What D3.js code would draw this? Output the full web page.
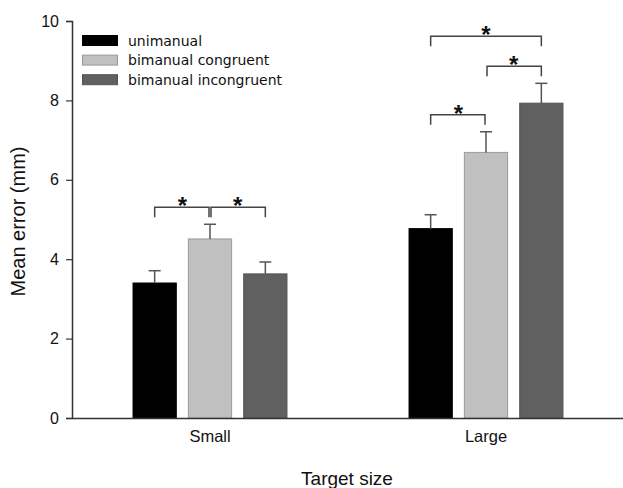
<!DOCTYPE html>
<html>
<head>
<meta charset="utf-8">
<script src="https://cdn.jsdelivr.net/npm/d3@7"></script>
<style>
  html, body { margin: 0; padding: 0; background: #fff; }
  svg { display: block; }
</style>
</head>
<body>
<svg id="chart" width="623" height="488"></svg>
<script>
// Mean pointing error by target size and hand condition
const targetSizes = ["Small", "Large"];
const conditions = ["unimanual", "bimanual congruent", "bimanual incongruent"];
const meanError = {
  Small: [3.40, 4.51, 3.63],
  Large: [4.77, 6.69, 7.93]
};
const errorSE = {
  Small: [0.31, 0.37, 0.30],
  Large: [0.35, 0.52, 0.50]
};
// significant pairwise comparisons (indices into conditions)
const sigPairs = {
  Small: [[0, 1], [1, 2]],
  Large: [[0, 1], [1, 2], [0, 2]]
};
const yTicks = [0, 2, 4, 6, 8, 10];

const fills = ["#000000", "#c0c0c0", "#606060"];
const strokes = ["#000000", "#9a9a9a", "#555555"];
const sans = "Liberation Sans, Arial, sans-serif";

const svg = d3.select("#chart");
const plot = { left: 72, right: 624, top: 21, bottom: 418 };

const y = d3.scaleLinear().domain([0, 10]).range([plot.bottom, plot.top]);
const x0 = d3.scaleBand().domain(targetSizes).range([plot.left, plot.right]);
const x1 = d3.scaleBand().domain(d3.range(conditions.length))
  .range([-83, 83]).paddingInner(0.2).paddingOuter(0.1);

const rows = targetSizes.flatMap(g => conditions.map((c, i) => ({
  g, i, v: meanError[g][i], se: errorSE[g][i]
})));

// bars
svg.append("g").selectAll("rect").data(rows).join("rect")
  .attr("x", d => x0(d.g) + x0.bandwidth() / 2 + x1(d.i) + 0.5)
  .attr("y", d => y(d.v))
  .attr("width", x1.bandwidth() - 1)
  .attr("height", d => y(0) - y(d.v))
  .attr("fill", d => fills[d.i])
  .attr("stroke", d => strokes[d.i])
  .attr("stroke-width", 1);

// error bars (upper only)
const cx = d => x0(d.g) + x0.bandwidth() / 2 + x1(d.i) + x1.bandwidth() / 2;
const eb = svg.append("g").attr("stroke", "#555").attr("stroke-width", 1.5);
eb.selectAll("line.v").data(rows).join("line").attr("class", "v")
  .attr("x1", cx).attr("x2", cx)
  .attr("y1", d => y(d.v)).attr("y2", d => y(d.v + d.se));
eb.selectAll("line.c").data(rows).join("line").attr("class", "c")
  .attr("x1", d => cx(d) - 6).attr("x2", d => cx(d) + 6)
  .attr("y1", d => y(d.v + d.se)).attr("y2", d => y(d.v + d.se));

// significance brackets: sit above the tallest error bar they span,
// and stack above any narrower bracket nested inside them
const bg = svg.append("g");
targetSizes.forEach(g => {
  const placed = [];
  const pairs = sigPairs[g].slice().sort((a, b) => (a[1] - a[0]) - (b[1] - b[0]));
  pairs.forEach(([a, b]) => {
    const xa = cx({ g, i: a }), xb = cx({ g, i: b });
    let top = d3.min(d3.range(a, b + 1), k => y(meanError[g][k] + errorSE[g][k])) - 17;
    placed.forEach(p => {
      if (p.a >= a && p.b <= b) top = Math.min(top, p.y - 30);
    });
    placed.push({ a, b, y: top });
    const l = xa + (sigPairs[g].some(q => q[1] === a) ? 1 : 0);
    const r = xb - (sigPairs[g].some(q => q[0] === b) ? 1 : 0);
    bg.append("path")
      .attr("d", `M${l},${top + 10}V${top}H${r}V${top + 10}`)
      .attr("fill", "none").attr("stroke", "#444").attr("stroke-width", 1.5);
    bg.append("text")
      .attr("x", (xa + xb) / 2).attr("y", top + 7)
      .attr("text-anchor", "middle")
      .attr("font-family", sans)
      .attr("font-size", 24).attr("font-weight", "bold")
      .attr("fill", "#111").text("*");
  });
});

// y axis
const yAxis = svg.append("g").attr("transform", `translate(${plot.left},0)`)
  .call(d3.axisLeft(y).tickValues(yTicks).tickSize(6).tickPadding(7).tickFormat(d3.format("d")));
yAxis.select(".domain").attr("stroke", "#333").attr("stroke-width", 1.5);
yAxis.selectAll(".tick line").attr("stroke", "#333").attr("stroke-width", 1.2);
yAxis.selectAll("text").attr("font-family", sans)
  .attr("font-size", 16).attr("fill", "#111");

// x axis
const xAxis = svg.append("g").attr("transform", `translate(0,${plot.bottom})`)
  .call(d3.axisBottom(x0).tickSize(0).tickPadding(12));
xAxis.select(".domain").attr("stroke", "#333").attr("stroke-width", 1.5);
xAxis.selectAll("text").attr("font-family", sans)
  .attr("font-size", 16.5).attr("fill", "#111");

// axis titles
svg.append("text")
  .attr("transform", `translate(25,${(plot.top + plot.bottom) / 2 + 2}) rotate(-90)`)
  .attr("text-anchor", "middle")
  .attr("font-family", sans)
  .attr("font-size", 20).attr("fill", "#111")
  .text("Mean error (mm)");
svg.append("text")
  .attr("x", 347).attr("y", 485)
  .attr("text-anchor", "middle")
  .attr("font-family", sans)
  .attr("font-size", 19).attr("fill", "#111")
  .text("Target size");

// legend
const lg = svg.append("g").attr("transform", "translate(82,35)");
const item = lg.selectAll("g").data(conditions).join("g")
  .attr("transform", (d, i) => `translate(0,${i * 19.6})`);
item.append("rect")
  .attr("x", 0.5).attr("y", 0.5).attr("width", 35).attr("height", 10)
  .attr("fill", (d, i) => fills[i]).attr("stroke", (d, i) => strokes[i]);
item.append("text")
  .attr("x", 46).attr("y", 10.5)
  .attr("font-family", "DejaVu Sans, Verdana, sans-serif")
  .attr("font-size", 14).attr("fill", "#111")
  .text(d => d);
</script>
</body>
</html>
